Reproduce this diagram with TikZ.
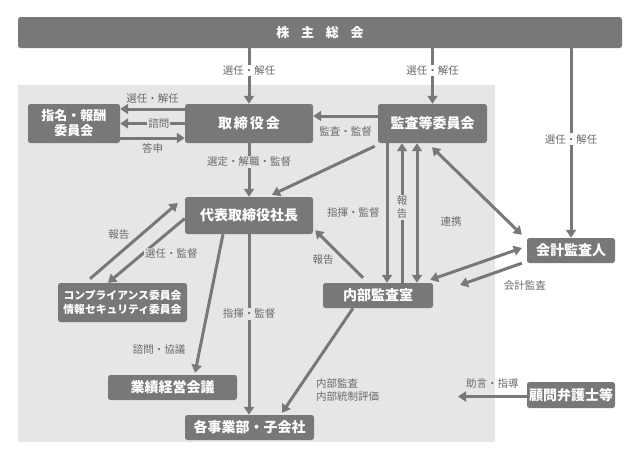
\documentclass[tikz,border=0pt]{standalone}
\usepackage{fontspec}
\newfontfamily\jp{Noto Sans CJK JP}
\usetikzlibrary{arrows.meta}
\definecolor{boxgray}{HTML}{787878}
\definecolor{lblgray}{HTML}{6A6A6A}
\definecolor{shadegray}{HTML}{E6E6E6}

\tikzset{
  box/.style={fill=boxgray, rounded corners=2.5pt, text=white, inner sep=0pt,
    font=\jp\bfseries\fontsize{14}{16}\selectfont, align=center},
  lbl/.style={text=lblgray, inner sep=1pt, font=\jp\fontsize{10.5}{12.5}\selectfont},
  arr/.style={draw=boxgray, line width=3pt, -{Triangle[width=10pt,length=8pt]}},
  darr/.style={arr, {Triangle[width=10pt,length=8pt]}-{Triangle[width=10pt,length=8pt]}}
}

\begin{document}
\begin{tikzpicture}[x=1pt, y=-1pt]
\useasboundingbox (0,0) rectangle (640,467);
\fill[shadegray] (18,85) rectangle (495,442);

% boxes
\node[box, minimum width=604pt, minimum height=31pt, font=\jp\bfseries\fontsize{13}{15}\selectfont] (meeting) at (320,32.5) {株\hspace{0.9em}主\hspace{0.9em}総\hspace{0.9em}会};
\node[box, minimum width=92pt, minimum height=39pt, font=\jp\bfseries\fontsize{13}{15}\selectfont] (nomi) at (74,123.5) {指名・報酬\\委員会};
\node[box, minimum width=128pt, minimum height=39pt] (board) at (249,123.5) {取\hspace{2pt}締\hspace{2pt}役\hspace{2pt}会};
\node[box, minimum width=109pt, minimum height=39pt] (audit) at (432.5,123.5) {監査等委員会};
\node[box, minimum width=128pt, minimum height=37pt] (ceo) at (249,215.5) {代表取締役社長};
\node[box, minimum width=129pt, minimum height=39pt, font=\jp\bfseries\fontsize{10.8}{14}\selectfont] (comp) at (122.5,302.5) {コンプライアンス委員会\\情報セキュリティ委員会};
\node[box, minimum width=110pt, minimum height=25pt] (internal) at (378,295.5) {内部監査室};
\node[box, minimum width=88pt, minimum height=25pt] (acct) at (571,250.5) {会計監査人};
\node[box, minimum width=129pt, minimum height=25pt] (perf) at (172.5,387.5) {業績経営会議};
\node[box, minimum width=129pt, minimum height=25pt] (divs) at (249.5,427.5) {各事業部・子会社};
\node[box, minimum width=88pt, minimum height=26pt] (lawyer) at (571,395) {顧問弁護士等};
\coordinate (acctend) at (460,285);
\coordinate (lawend) at (458,396.5);
\node[lbl] (coop) at (451,222) {連携};

% shareholders
\draw[arr] (meeting.south -| board.north) -- node[lbl, fill=white, pos=0.4] {選任・解任} (board.north);
\draw[arr] (meeting.south -| audit.north) -- node[lbl, fill=white, pos=0.4] {選任・解任} (audit.north);
\draw[arr] (meeting.south -| acct.north) -- node[lbl, fill=white, pos=0.48] {選任・解任} (acct.north);

% board and nomination
\draw[arr] (board.west |- 0,109) -- node[lbl, above=3pt] {選任・解任} (nomi.east |- 0,109);
\draw[arr] (board.west) -- node[lbl, fill=shadegray, pos=0.4] {諮問} (nomi.east);
\draw[arr] (nomi.east |- 0,138) -- node[lbl, below=3pt] {答申} (board.west |- 0,138);
\draw[arr] (audit.west |- 0,116) -- node[lbl, below=8pt] {監査・監督} (board.east |- 0,116);

% president
\draw[arr] (board.south) -- node[lbl, fill=shadegray, pos=0.35] {選定・解職・監督} (ceo.north);
\draw[arr] ([xshift=-3pt,yshift=-3pt]audit.south west) -- ([xshift=23pt,yshift=2pt]ceo.north);
\draw[arr] ([yshift=-3pt]ceo.west) -- node[lbl, fill=shadegray, pos=0.55, anchor=west] {選任・監督} ([xshift=-14.5pt]comp.north);
\draw[arr] ([xshift=-32.5pt,yshift=4pt]comp.north) -- node[lbl, pos=0.58, anchor=east, xshift=-9pt] {報告} ([xshift=-7pt,yshift=12.5pt]ceo.west);
\draw[arr] ([xshift=-26pt]ceo.south) -- node[lbl, pos=0.83, anchor=east, xshift=-12pt] {諮問・協議} ([xshift=22.5pt,yshift=2pt]perf.north);
\draw[arr] (ceo.south) -- node[lbl, fill=shadegray, pos=0.44] {指揮・監督} (ceo.south |- divs.north);

% internal audit
\draw[arr] ([xshift=-45.5pt]audit.south) -- node[lbl, pos=0.5, anchor=east, xshift=-5pt] {指揮・監督} ([xshift=9pt]internal.north);
\draw[arr] ([xshift=24pt]internal.north) -- node[lbl, fill=shadegray, pos=0.54, align=center, font=\jp\fontsize{10.5}{13}\selectfont] {報\\告} ([xshift=-30.5pt]audit.south);
\draw[darr] ([xshift=-15.5pt]audit.south) -- ([xshift=39pt]internal.north);
\draw[darr] ([xshift=-0.5pt,yshift=-4pt]audit.south) -- ([xshift=-5pt,yshift=3pt]acct.north west);
\draw[darr] ([xshift=-5pt,yshift=2.5pt]acct.west) -- ([xshift=-3pt,yshift=3pt]internal.north east);
\draw[arr] ([xshift=-5pt]acct.south west) -- node[lbl, pos=0, anchor=north, xshift=3pt, yshift=-15pt] {会計監査} (acctend);
\draw[arr] ([xshift=-15pt,yshift=5pt]internal.north) -- node[lbl, pos=0.375, anchor=east, xshift=-9pt] {報告} ([xshift=2pt,yshift=4pt]ceo.south east);
\draw[arr] ([xshift=-25pt]internal.south) -- node[lbl, pos=0.78, anchor=west, xshift=16pt, align=left] {内部監査\\内部統制評価} ([xshift=32.5pt,yshift=2pt]divs.north);

% lawyers
\draw[arr] ([yshift=-1.5pt]lawyer.west) -- node[lbl, pos=0.5, above=6pt] {助言・指導} (lawend);
\end{tikzpicture}
\end{document}
